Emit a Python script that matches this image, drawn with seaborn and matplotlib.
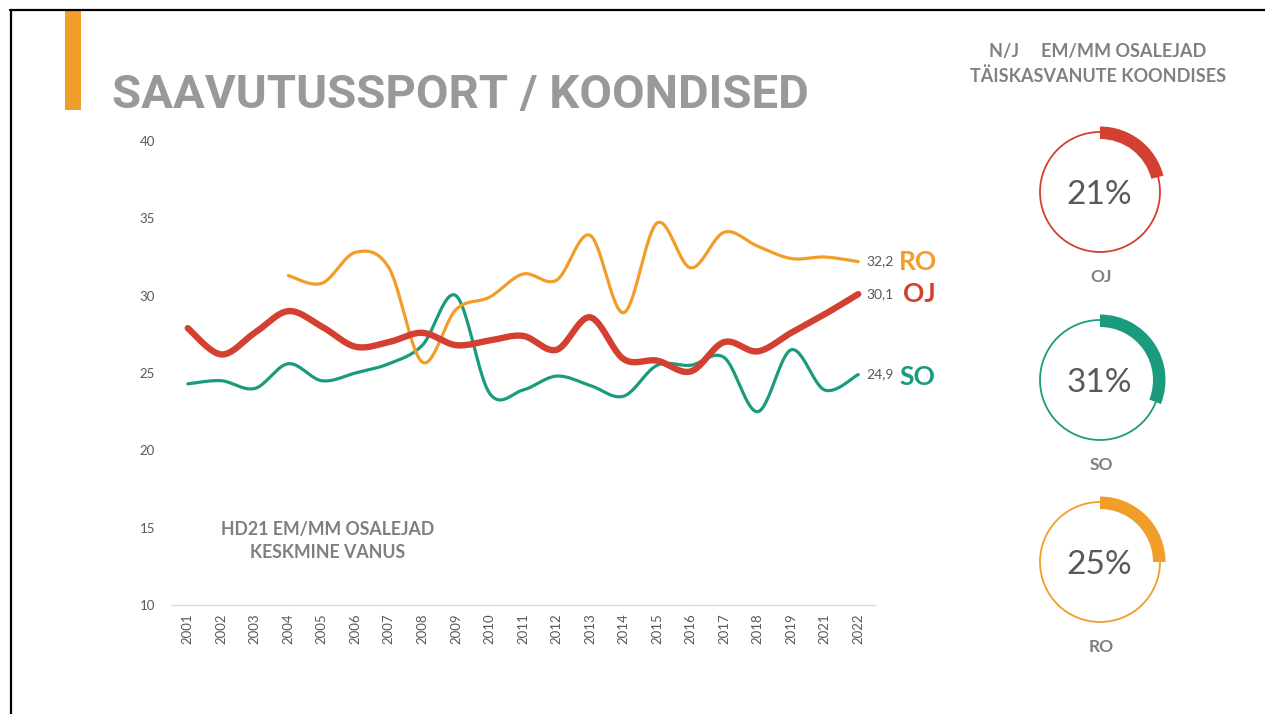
import numpy as np
import pandas as pd
import matplotlib
matplotlib.use("Agg")
import matplotlib.pyplot as plt
from matplotlib.patches import Rectangle, Wedge, Circle
from matplotlib.lines import Line2D
import seaborn as sns

# ---------------- data ----------------
years = ["2001", "2002", "2003", "2004", "2005", "2006", "2007", "2008", "2009", "2010",
         "2011", "2012", "2013", "2014", "2015", "2016", "2017", "2018", "2019", "2021", "2022"]
oj_values = [27.9, 26.2, 27.6, 29.0, 28.0, 26.7, 27.0, 27.6, 26.8, 27.1,
             27.4, 26.5, 28.6, 25.9, 25.8, 25.1, 27.0, 26.4, 27.6, 28.8, 30.1]
ro_values = [None, None, None, 31.3, 30.8, 32.8, 31.8, 25.7, 29.1, 29.9,
             31.4, 31.0, 33.9, 28.9, 34.7, 31.8, 34.1, 33.2, 32.4, 32.5, 32.2]
so_values = [24.3, 24.5, 24.0, 25.6, 24.5, 25.0, 25.6, 26.8, 30.0, 23.7,
             23.9, 24.8, 24.2, 23.5, 25.5, 25.5, 26.0, 22.5, 26.5, 23.9, 24.9]
series_names = ["OJ", "RO", "SO"]
donut_names = ["OJ", "SO", "RO"]
donut_shares = [0.21, 0.31, 0.25]
title_text = "SAAVUTUSSPORT / KOONDISED"
header_lines = ["N/J     EM/MM OSALEJAD", "TÄISKASVANUTE KOONDISES"]
chart_note = ["HD21 EM/MM OSALEJAD", "KESKMINE VANUS"]

colors = {"OJ": "#D33F31", "RO": "#F19D2A", "SO": "#1A9B7E"}
widths = {"OJ": 4.6, "RO": 2.3, "SO": 2.3}
name_offsets = {"OJ": (32, 0), "RO": (29.5, 0), "SO": (29.5, -2)}

W, H = 1265, 714
sns.set_theme(style="white")
plt.rcParams["font.family"] = ["Lato", "DejaVu Sans"]

fig = plt.figure(figsize=(W / 100, H / 100), dpi=100)
fig.patch.set_facecolor("white")


def fx(px):
    return px / W


def fy(py):
    return 1 - py / H


# frame and accent bar
fig.add_artist(Line2D([fx(10.5), fx(10.5)], [fy(9.5), fy(H + 5)], color="black", lw=1.6,
                      transform=fig.transFigure))
fig.add_artist(Line2D([fx(10), fx(W + 5)], [fy(9.5), fy(9.5)], color="black", lw=1.6,
                      transform=fig.transFigure))
fig.add_artist(Rectangle((fx(65), fy(110)), fx(16), 100 / H, color="#F19D2A",
                         transform=fig.transFigure, lw=0))

fig.text(fx(112), fy(108), title_text, fontsize=34, fontweight="bold", color="#999999",
         family=["Roboto", "DejaVu Sans"], ha="left", va="baseline")

for i, line in enumerate(header_lines):
    fig.text(fx(1098), fy(52 + 24 * i), line, fontsize=13, fontweight="bold", color="#808080",
             ha="center", va="center")

# ---------------- line chart ----------------
ax = fig.add_axes([fx(171), fy(605), fx(875) - fx(171), (605 - 141) / H])


def smooth(xs, ys, n=30):
    """Bezier smoothing through the given points (Excel-style smoothed line)."""
    pts = np.column_stack([xs, ys]).astype(float)
    out = []
    m = len(pts)
    for i in range(m - 1):
        p0 = pts[i - 1] if i > 0 else pts[i]
        p1 = pts[i]
        p2 = pts[i + 1]
        p3 = pts[i + 2] if i + 2 < m else pts[i + 1]
        c1 = p1 + (p2 - p0) / 6.0
        c2 = p2 - (p3 - p1) / 6.0
        t = np.linspace(0, 1, n, endpoint=(i == m - 2))[:, None]
        seg = ((1 - t) ** 3) * p1 + 3 * ((1 - t) ** 2) * t * c1 + 3 * (1 - t) * t ** 2 * c2 + t ** 3 * p2
        out.append(seg)
    out = np.vstack(out)
    return out[:, 0], out[:, 1]


data = {"OJ": oj_values, "RO": ro_values, "SO": so_values}
for name in ["SO", "RO", "OJ"]:
    vals = data[name]
    idx = [i for i, v in enumerate(vals) if v is not None]
    yv = [vals[i] for i in idx]
    sx, sy = smooth(idx, yv)
    df = pd.DataFrame({"x": sx, "y": sy})
    sns.lineplot(data=df, x="x", y="y", ax=ax, sort=False, estimator=None,
                 color=colors[name], lw=widths[name], solid_capstyle="round")
    last = len(vals) - 1
    ax.annotate(f"{vals[last]:.1f}".replace(".", ","), (last, vals[last]),
                xytext=(6, 0), textcoords="offset points", ha="left", va="center",
                fontsize=10, color="#595959")
    ax.annotate(name, (last, vals[last]), xytext=name_offsets[name],
                textcoords="offset points", ha="left", va="center",
                fontsize=19, fontweight="bold", color=colors[name])

ax.set_xlim(-0.5, len(years) - 0.5)
ax.set_ylim(10, 40)
ax.set_yticks(np.arange(10, 41, 5))
ax.set_xticks(range(len(years)))
ax.set_xticklabels(years, rotation=90)
ax.tick_params(axis="both", length=0, labelsize=9.5, labelcolor="#595959")
ax.tick_params(axis="y", pad=11.5)
ax.tick_params(axis="x", pad=6)
ax.set_xlabel("")
ax.set_ylabel("")
for s in ["top", "right", "left"]:
    ax.spines[s].set_visible(False)
ax.spines["bottom"].set_color("#D9D9D9")
ax.spines["bottom"].set_linewidth(1.0)
ax.grid(False)
ax.set_facecolor("none")

for i, line in enumerate(chart_note):
    fig.text(fx(328), fy(529 + 24 * i), line, fontsize=12.8, fontweight="bold", color="#7F7F7F",
             ha="center", va="center")

# ---------------- donuts ----------------
centers = [192, 380, 562]
for name, share, cy in zip(donut_names, donut_shares, centers):
    size = 160
    dax = fig.add_axes([fx(1100 - size / 2), fy(cy + size / 2), size / W, size / H])
    dax.set_xlim(-size / 2, size / 2)
    dax.set_ylim(-size / 2, size / 2)
    dax.set_aspect("equal")
    dax.axis("off")
    dax.add_patch(Circle((0, 0), 60, fill=False, edgecolor=colors[name], lw=1.3))
    dax.add_patch(Wedge((0, 0), 65.5, 90 - 360 * share, 90, width=12.5,
                        facecolor=colors[name], edgecolor="none"))
    dax.text(-1, -3, f"{int(round(share * 100))}%", fontsize=24, color="#595959",
             ha="center", va="center")
    fig.text(fx(1101), fy(cy + 85), name, fontsize=12.5, fontweight="bold", color="#7F7F7F",
             ha="center", va="center")

fig.savefig("out.png", dpi=100, facecolor="white")
